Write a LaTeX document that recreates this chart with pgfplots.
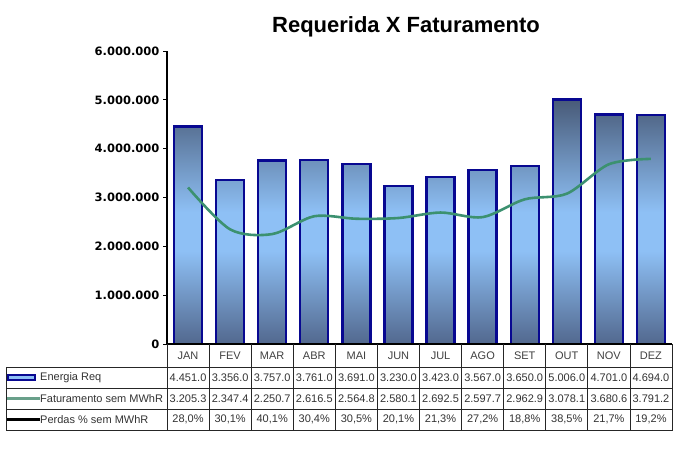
\documentclass[border=0pt]{standalone}
\usepackage{fontspec}
\setmainfont{Liberation Sans}
\newfontfamily\tickfont{DejaVu Sans}
\usepackage{pgfplots}
\pgfplotsset{compat=1.18}

\definecolor{bedge}{RGB}{8,8,145}
\definecolor{btop}{RGB}{72,90,120}
\definecolor{blight}{RGB}{142,192,245}
\definecolor{bbot}{RGB}{82,104,142}
\definecolor{fgreen}{RGB}{60,145,112}
\definecolor{lgreen}{RGB}{105,160,138}

\pgfdeclareverticalshading{barshade}{100bp}{color(0bp)=(bbot); color(25bp)=(bbot); color(44bp)=(blight); color(52bp)=(blight); color(75bp)=(btop); color(100bp)=(btop)}

\begin{document}
\begin{tikzpicture}[x=1pt,y=1pt]
\path[use as bounding box, fill=white] (0,0) rectangle (677,456);
\begin{axis}[
  at={(167pt,112pt)}, anchor=south west,
  scale only axis, width=505pt, height=293pt,
  xmin=-0.5, xmax=11.5, ymin=0, ymax=6000000,
  axis y line*=left, axis x line=none,
  xtick=\empty,
  ytick={0,1000000,2000000,3000000,4000000,5000000,6000000},
  scaled y ticks=false,
  yticklabel={\pgfmathprintnumber[fixed,1000 sep={.},assume math mode=true]{\tick}},
  yticklabel style={font=\tickfont\bfseries\fontsize{11.5}{13}\selectfont, text=black},
  tick align=outside, major tick length=4pt,
  tick style={black, line width=0.8pt},
  axis line style={black, line width=1.2pt},
  clip=false,
]
\addplot[ybar, bar width=28pt, draw=bedge, line width=2.3pt, shading=barshade]
  coordinates {(0,4451000) (1,3356000) (2,3757000) (3,3761000) (4,3691000) (5,3230000)
               (6,3423000) (7,3567000) (8,3650000) (9,5006000) (10,4701000) (11,4694000)};
\addplot[fgreen, line width=2.6pt, smooth, no marks]
  coordinates {(0,3205300) (1,2347400) (2,2250700) (3,2616500) (4,2564800) (5,2580100)
               (6,2692500) (7,2597700) (8,2962900) (9,3078100) (10,3680600) (11,3791200)};
\end{axis}
% title
\node[font=\bfseries\fontsize{22}{25}\selectfont, anchor=base] at (406,423) {Requerida X Faturamento};
% data table
\draw[black, line width=1.2pt] (167,112) -- (672,112);
\draw[black!85, line width=0.7pt] (672,112) -- (672,26) -- (6,26) -- (6,89) -- (672,89);
\draw[black!85, line width=0.7pt] (6,68) -- (672,68) (6,47) -- (672,47);
\foreach \k in {0,...,11} {\draw[black!85, line width=0.7pt] ({167+\k*505/12},112) -- ({167+\k*505/12},26);}
\foreach \m [count=\i from 0] in {JAN,FEV,MAR,ABR,MAI,JUN,JUL,AGO,SET,OUT,NOV,DEZ}
  {\node[font=\fontsize{11}{13}\selectfont, text=black!75] at ({167+(\i+0.5)*505/12},100.5) {\m};}
\foreach \v [count=\i from 0] in {4.451.0,3.356.0,3.757.0,3.761.0,3.691.0,3.230.0,3.423.0,3.567.0,3.650.0,5.006.0,4.701.0,4.694.0}
  {\node[font=\fontsize{11}{13}\selectfont, text=black!80] at ({167+(\i+0.5)*505/12},78.5) {\v};}
\foreach \v [count=\i from 0] in {3.205.3,2.347.4,2.250.7,2.616.5,2.564.8,2.580.1,2.692.5,2.597.7,2.962.9,3.078.1,3.680.6,3.791.2}
  {\node[font=\fontsize{11}{13}\selectfont, text=black!80] at ({167+(\i+0.5)*505/12},57.5) {\v};}
\foreach \v [count=\i from 0] in {{28,0\%},{30,1\%},{40,1\%},{30,4\%},{30,5\%},{20,1\%},{21,3\%},{27,2\%},{18,8\%},{38,5\%},{21,7\%},{19,2\%}}
  {\node[font=\fontsize{11}{13}\selectfont, text=black!80] at ({167+(\i+0.5)*505/12},36.5) {\v};}
% legend keys
\draw[bedge, line width=1.6pt, fill=blight] (8,76) rectangle (35,81);
\draw[lgreen, line width=2.6pt] (7,57.5) -- (40,57.5);
\draw[black, line width=2.6pt] (7,36.5) -- (40,36.5);
\node[anchor=west, inner sep=0, font=\fontsize{11}{13}\selectfont, text=black!80] at (40,78.5) {Energia Req};
\node[anchor=west, inner sep=0, font=\fontsize{11}{13}\selectfont, text=black!80] at (40,57.5) {Faturamento sem MWhR};
\node[anchor=west, inner sep=0, font=\fontsize{11}{13}\selectfont, text=black!80] at (40,36.5) {Perdas \% sem MWhR};
\end{tikzpicture}
\end{document}
